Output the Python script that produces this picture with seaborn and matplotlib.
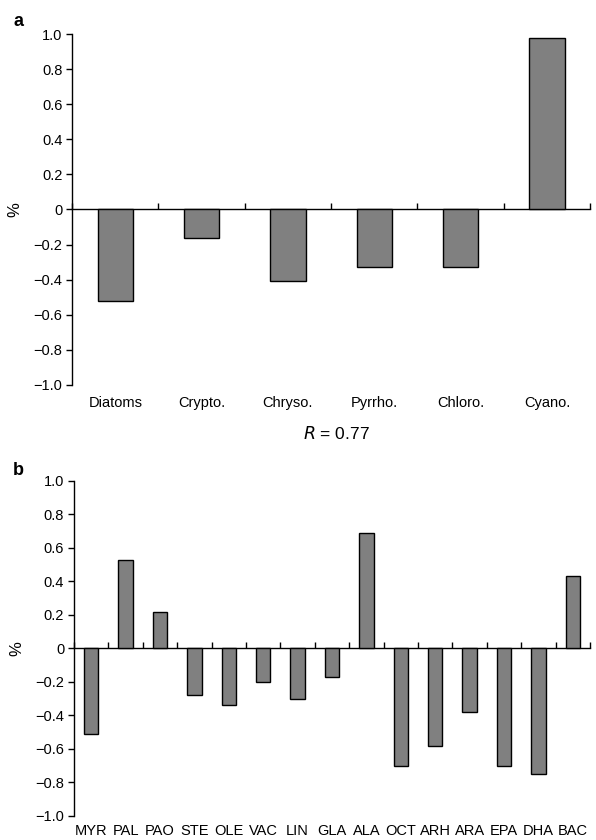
import numpy as np
import pandas as pd
import matplotlib
matplotlib.use("Agg")
import matplotlib.pyplot as plt
from matplotlib.ticker import FixedLocator, FuncFormatter, NullFormatter
import seaborn as sns

# ---- data ----
grupos_a = ["Diatoms", "Crypto.", "Chryso.", "Pyrrho.", "Chloro.", "Cyano."]
valores_a = [-0.52, -0.16, -0.41, -0.33, -0.33, 0.98]

grupos_b = ["MYR", "PAL", "PAO", "STE", "OLE", "VAC", "LIN", "GLA",
            "ALA", "OCT", "ARH", "ARA", "EPA", "DHA", "BAC"]
valores_b = [-0.51, 0.53, 0.22, -0.28, -0.34, -0.20, -0.30, -0.17,
             0.69, -0.70, -0.58, -0.38, -0.70, -0.75, 0.43]

r_texto = "0.77"

sns.set_style("ticks", {"axes.edgecolor": "black", "text.color": "black",
                        "xtick.color": "black", "ytick.color": "black",
                        "axes.labelcolor": "black"})
plt.rcParams["font.family"] = ["Liberation Sans", "DejaVu Sans"]
plt.rcParams["axes.linewidth"] = 1.0


def fmt_y(v, pos):
    if abs(v) < 1e-9:
        return "0"
    return f"{v:.1f}".replace("-", "\u2212")


def painel(ax, grupos, valores, largura):
    df = pd.DataFrame({"grupo": grupos, "valor": valores})
    sns.barplot(data=df, x="grupo", y="valor", color="#808080", saturation=1,
                edgecolor="black", linewidth=1.0, width=largura, ax=ax)
    n = len(grupos)
    ax.set_xlim(-0.5, n - 0.5)
    ax.set_ylim(-1.0, 1.0)
    ax.set_yticks(np.arange(-1.0, 1.01, 0.2))
    ax.yaxis.set_major_formatter(FuncFormatter(fmt_y))
    ax.tick_params(axis="y", length=4, width=1, labelsize=10.5, pad=3)
    ax.tick_params(axis="x", length=0, labelsize=10.5, pad=8)
    ax.set_xlabel("")
    ax.set_ylabel("%", fontsize=12, labelpad=8)
    for s in ["top", "right", "bottom"]:
        ax.spines[s].set_visible(False)
    # eixo na linha do zero com marcas entre as categorias
    sec = ax.secondary_xaxis(0.5)
    sec.xaxis.set_major_locator(FixedLocator(np.arange(-0.5, n, 1.0)))
    sec.xaxis.set_major_formatter(NullFormatter())
    sec.tick_params(axis="x", length=4, width=1, direction="out", color="black")
    sec.spines["bottom"].set_linewidth(1.0)
    sec.spines["bottom"].set_color("black")


fig = plt.figure(figsize=(5.96, 8.40), dpi=100)
ax_a = fig.add_axes([0.121, 0.5417, 0.869, 0.4178])
ax_b = fig.add_axes([0.124, 0.0286, 0.866, 0.3988])

painel(ax_a, grupos_a, valores_a, 0.41)
painel(ax_b, grupos_b, valores_b, 0.42)

ax_b.tick_params(axis="x", pad=6)

fig.text(0.022, 0.985, "a", fontsize=13, fontweight="bold", va="top")
fig.text(0.022, 0.45, "b", fontsize=13, fontweight="bold", va="top")
fig.text(0.565, 0.484, f"$\\it{{R}}$ = {r_texto}", fontsize=12.5, ha="center", va="center")

fig.savefig("out.png", dpi=100)
